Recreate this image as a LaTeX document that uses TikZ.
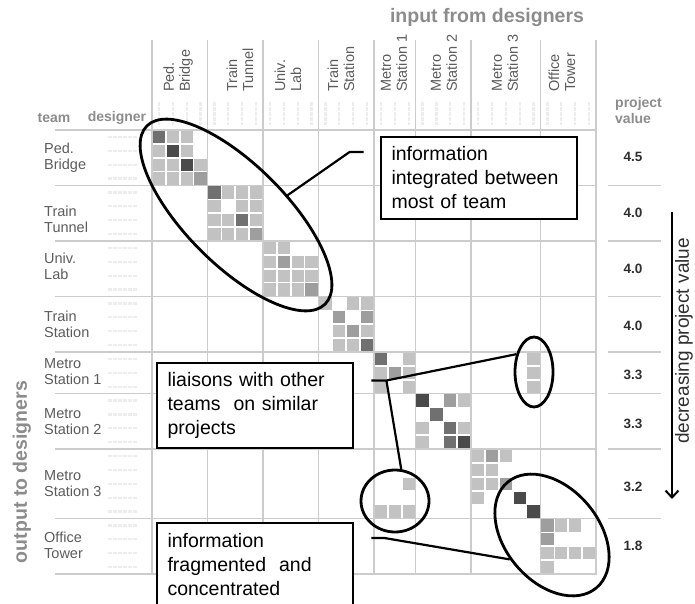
\documentclass[tikz,border=0pt]{standalone}
\usepackage{fontspec}
\setmainfont{Liberation Sans}
\usepackage{tikz}
\usetikzlibrary{shapes.geometric,arrows.meta,positioning}

\definecolor{cellL}{gray}{0.76}
\definecolor{cellM}{gray}{0.62}
\definecolor{cellD}{gray}{0.44}
\definecolor{cellV}{gray}{0.29}
\definecolor{gridc}{gray}{0.80}
\definecolor{labc}{gray}{0.36}
\definecolor{headc}{gray}{0.55}
\definecolor{valc}{gray}{0.18}

\tikzset{
  gridline/.style={gridc, line width=1.4pt},
  smudge/.style={black!7, line width=2.2pt, dash pattern=on 4pt off 1pt},
  lab/.style={text=labc, font=\fontsize{14.5}{16}\selectfont, align=left, inner sep=0pt},
  head/.style={text=headc, font=\bfseries\fontsize{14}{16}\selectfont, align=left, inner sep=0pt},
  big/.style={text=headc, font=\bfseries\fontsize{19.5}{22}\selectfont, inner sep=0pt},
  val/.style={text=valc, font=\bfseries\fontsize{13.5}{16}\selectfont, inner sep=0pt}
}

\begin{document}
\begin{tikzpicture}[x=1pt,y=-1pt,
    ring/.style={draw, ellipse, line width=2.8pt, inner sep=0pt},
    note/.style={draw, fill=white, line width=2.8pt, align=left, text width=175pt,
      inner xsep=10.5pt, font=\fontsize{19.5}{24}\selectfont},
    link/.style={line width=2.2pt}]
  \useasboundingbox (0,0) rectangle (695,604);
  \clip (0,0) rectangle (695,604);

  \node[big] (inp) at (487,18) {input from designers};
  \node[big, rotate=90] (outp) at (22,472) {output to designers};
  \node[head] (team) at (54,118) {team};
  \node[head] (desg) at (117,118) {designer};
  \node[head, anchor=west] (pval) at (615,110) {project\\value};

  \foreach \k in {0,4,8,12,16,19,23,28,32} {
    \draw[gridline] ({152+\k*13.875},40) -- ({152+\k*13.875},575);
    \draw[gridline] (55,{130+\k*13.875}) -- (596,{130+\k*13.875});
  }
  \foreach \k in {4,8,12,16,19,23,28}
    \draw[gridline] (608,{130+\k*13.875}) -- (661,{130+\k*13.875});

  \foreach \j in {0,...,31} {
    \draw[smudge] ({152+(\j+0.5)*13.875},102) -- ({152+(\j+0.5)*13.875},125);
    \draw[smudge] (108,{130+(\j+0.5)*13.875}) -- (138,{130+(\j+0.5)*13.875});
  }

  \foreach \x/\t [count=\n] in {178/{Ped.\\Bridge}, 240/{Train\\Tunnel}, 288/{Univ.\\Lab},
      341/{Train\\Station}, 394/{Metro\\Station 1}, 444/{Metro\\Station 2},
      505/{Metro\\Station 3}, 562/{Office\\Tower}}
    \node[lab, rotate=90, anchor=west] (col\n) at (\x,92) {\t};

  \foreach \y/\t [count=\n] in {158/{Ped.\\Bridge}, 219/{Train\\Tunnel}, 266/{Univ.\\Lab},
      324/{Train\\Station}, 372/{Metro\\Station 1}, 422/{Metro\\Station 2},
      484/{Metro\\Station 3}, 545/{Office\\Tower}}
    \node[lab, anchor=west] (row\n) at (44,\y) {\t};

  \foreach \y/\v [count=\n] in {157/4.5, 213/4.0, 269/4.0, 326/4.0, 375/3.3, 424/3.3, 487/3.2, 546/1.8}
    \node[val] (val\n) at (633,\y) {\v};

  \foreach \r/\c/\w in {0/0/cellD, 0/1/cellL, 0/2/cellL, 1/0/cellL, 1/1/cellV, 1/2/cellL,
      2/0/cellL, 2/1/cellL, 2/2/cellV, 2/3/cellL, 3/0/cellL, 3/1/cellL, 3/2/cellL, 3/3/cellM,
      4/4/cellD, 4/5/cellL, 4/6/cellL, 4/7/cellL, 5/4/cellL, 5/6/cellL, 5/7/cellL,
      6/4/cellL, 6/5/cellL, 6/6/cellD, 6/7/cellL, 7/4/cellL, 7/5/cellL, 7/6/cellL, 7/7/cellM,
      8/8/cellL, 8/9/cellL, 9/8/cellL, 9/9/cellM, 9/10/cellL, 9/11/cellL,
      10/8/cellL, 10/9/cellL, 10/10/cellL, 10/11/cellL, 11/8/cellL, 11/9/cellL, 11/10/cellL, 11/11/cellM,
      12/12/cellL, 12/14/cellL, 12/15/cellL, 13/13/cellM, 13/15/cellM,
      14/13/cellL, 14/14/cellM, 14/15/cellL, 15/13/cellL, 15/14/cellL, 15/15/cellD,
      16/16/cellD, 16/18/cellL, 16/27/cellL, 17/16/cellL, 17/17/cellM, 17/18/cellL, 17/27/cellL,
      18/16/cellL, 18/18/cellL, 18/27/cellL,
      19/19/cellV, 19/21/cellM, 19/22/cellL, 20/20/cellD,
      21/19/cellL, 21/21/cellD, 21/22/cellL, 22/19/cellL, 22/21/cellD, 22/22/cellV,
      23/23/cellL, 23/24/cellM, 23/25/cellL, 24/23/cellL, 24/24/cellL,
      25/18/cellL, 25/23/cellL, 25/24/cellL, 25/25/cellM, 26/23/cellL, 26/26/cellV,
      27/16/cellL, 27/17/cellL, 27/18/cellL, 27/27/cellV,
      28/28/cellM, 28/29/cellL, 28/30/cellL, 29/28/cellM,
      30/28/cellL, 30/29/cellL, 30/30/cellL, 30/31/cellL, 31/28/cellL}
    \fill[\w] ({152.8+\c*13.875},{130.8+\r*13.875}) rectangle ++(12.3,12.3);

  \node[ring, minimum width=252pt, minimum height=100pt, rotate=-45] (e1) at (236,215) {};
  \node[ring, minimum width=38pt, minimum height=70pt] (e2) at (534,372) {};
  \node[ring, minimum width=68pt, minimum height=62pt] (e3) at (395,501) {};
  \node[ring, minimum width=138pt, minimum height=94pt, rotate=-50] (e4) at (552,535) {};

  \node[note, minimum height=82pt] (b1) at (479,178) {information\\integrated between\\most of team};
  \node[note, minimum height=85pt] (b2) at (255,405.5) {liaisons with other\\teams\ \ on similar\\projects};
  \node[note, minimum height=84pt] (b3) at (255,565) {information\\fragmented\ \ and\\concentrated};

  \coordinate (k1) at ([xshift=-16pt,yshift=26pt]b1.west);
  \coordinate (k2) at ([xshift=17pt,yshift=25pt]b2.east);
  \coordinate (k3) at ([xshift=17pt,yshift=27pt]b3.east);
  \draw[link] (k1) -- ++(-14,0) -- (e1.66);
  \draw[link] (k2) -- ++(15,0) coordinate (k2b) -- (e2.135);
  \draw[link] (k2b) -- (e3.79);
  \draw[link] (k3) -- ++(13,0) -- (e4.260);

  \coordinate (dtop) at (672,212);
  \coordinate (dbot) at (672,499);
  \draw[line width=2pt, -{Straight Barb[length=7pt,width=13pt]}] (dtop) -- (dbot);
  \node[rotate=90, text=valc, font=\fontsize{19}{22}\selectfont, inner sep=0pt] (decr) at (684,341)
    {decreasing\ project\ value};
\end{tikzpicture}
\end{document}
